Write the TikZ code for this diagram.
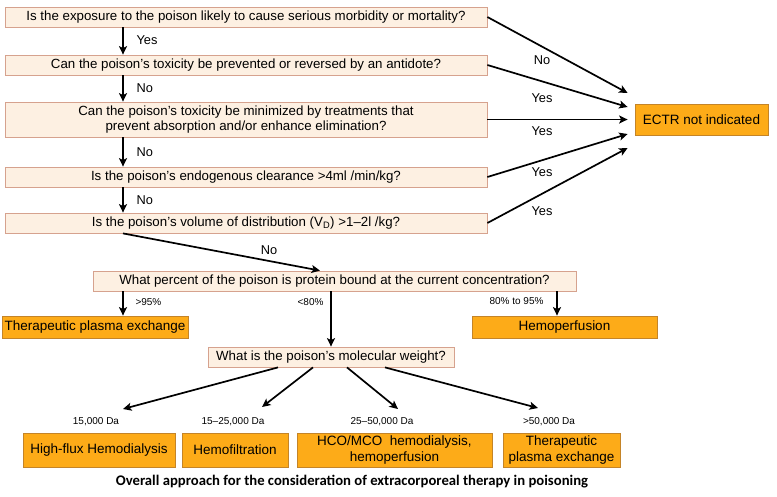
\documentclass[tikz,border=0pt]{standalone}
\usepackage{fontspec}
\setmainfont{Liberation Sans}
\newfontfamily\capfont{Carlito}
\usepackage{tikz}
\usetikzlibrary{arrows.meta}
\usetikzlibrary{positioning}
\definecolor{qfill}{RGB}{253,240,226}
\definecolor{qline}{RGB}{214,162,142}
\definecolor{ofill}{RGB}{253,171,24}
\definecolor{oline}{RGB}{196,132,40}
\tikzset{
    question/.style={
        draw=qline,
        fill=qfill,
        line width=0.8pt,
        inner sep=1pt,
        align=center,
        font=\fontsize{13.3}{15}\selectfont
    },
    therapy/.style={
        draw=oline,
        fill=ofill,
        line width=0.8pt,
        inner sep=1pt,
        align=center,
        font=\fontsize{13.5}{15.5}\selectfont
    },
    flow/.style={
        draw,
        -{Stealth[length=8.5pt, width=8pt, inset=2pt]},
        line width=1.7pt
    },
    answer/.style={font=\fontsize{12.8}{14}\selectfont},
    small/.style={font=\fontsize{10}{11}\selectfont}
}

\begin{document}
\begin{tikzpicture}[x=1pt, y=-1pt]
  \useasboundingbox (0,0) rectangle (777,496);

  % Questions
  \node[question, minimum width=482, minimum height=20] (q1) at (246,17) {Is the exposure to the poison likely to cause serious morbidity or mortality?};
  \node[question, minimum width=482, minimum height=20] (q2) at (246,65) {Can the poison's toxicity be prevented or reversed by an antidote?};
  \node[question, minimum width=482, minimum height=35] (q3) at (246,119.5) {Can the poison's toxicity be minimized by treatments that\\prevent absorption and/or enhance elimination?};
  \node[question, minimum width=482, minimum height=20] (q4) at (246,177) {Is the poison's endogenous clearance >4ml /min/kg?};
  \node[question, minimum width=482, minimum height=20] (q5) at (246,223) {Is the poison's volume of distribution (V\textsubscript{D}) >1–2l /kg?};
  \node[question, minimum width=483, minimum height=20] (q6) at (334.5,281) {What percent of the poison is protein bound at the current concentration?};
  \node[question, minimum width=246, minimum height=20] (mw) at (331,357) {What is the poison's molecular weight?};

  % Outcomes
  \node[therapy, minimum width=133, minimum height=31] (ectr) at (701.5,119.5) {ECTR not indicated};
  \node[therapy, minimum width=186, minimum height=22] (tpe) at (95,327) {Therapeutic plasma exchange};
  \node[therapy, minimum width=185, minimum height=22] (hp) at (564.5,327) {Hemoperfusion};
  \node[therapy, minimum width=152, minimum height=34] (hfhd) at (99,450) {High-flux Hemodialysis};
  \node[therapy, minimum width=106, minimum height=34] (hf) at (235,450) {Hemofiltration};
  \node[therapy, minimum width=195, minimum height=34] (hco) at (394.5,450) {HCO/MCO\ \ hemodialysis,\\hemoperfusion};
  \node[therapy, minimum width=117, minimum height=34] (tpe2) at (561.5,450) {Therapeutic\\plasma exchange};

  % Main line down the left
  \coordinate (spine) at (123,0);
  \draw[flow] (q1.south -| spine) -- (q2.north -| spine);
  \draw[flow] (q2.south -| spine) -- (q3.north -| spine);
  \draw[flow] (q3.south -| spine) -- (q4.north -| spine);
  \draw[flow] (q4.south -| spine) -- (q5.north -| spine);
  \draw[flow] (q5.south -| spine) -- ([xshift=-14.5pt]q6.north);
  \node[answer, anchor=west] (a1) at (133,40) {Yes};
  \node[answer, anchor=west] (a2) at (133,88) {No};
  \node[answer, anchor=west] (a3) at (133,152) {No};
  \node[answer, anchor=west] (a4) at (133,200) {No};
  \node[answer] (a5) at (269,250) {No};

  % Branches to ECTR not indicated
  \draw[flow] (q1.east) -- ([xshift=-7pt, yshift=26.5pt]ectr.west);
  \draw[flow] (q2.east) -- ([xshift=-7pt, yshift=12.5pt]ectr.west);
  \draw[flow] (q3.east) -- ([xshift=-7pt]ectr.west);
  \draw[flow] (q4.east) -- ([xshift=-7pt, yshift=-14.5pt]ectr.west);
  \draw[flow] (q5.east) -- ([xshift=-7pt, yshift=-28.5pt]ectr.west);
  \node[answer] (b1) at (542,60) {No};
  \node[answer] (b2) at (542,98) {Yes};
  \node[answer] (b3) at (542,131) {Yes};
  \node[answer] (b4) at (542,172) {Yes};
  \node[answer] (b5) at (542,211) {Yes};

  % Protein binding
  \coordinate (hpin) at ([xshift=-7.5pt]hp.north);
  \draw[flow] (q6.south -| spine) -- (tpe.north -| spine);
  \draw[flow] (q6.south -| mw) -- (mw.north);
  \draw[flow] (q6.south -| hpin) -- (hpin);
  \node[small, anchor=west] (p1) at (132,302) {>95\%};
  \node[small, anchor=east] (p2) at (327,302) {<80\%};
  \node[small, anchor=east] (p3) at (547,301) {80\% to 95\%};

  % Molecular weight
  \coordinate (e1) at (123,409);
  \coordinate (e2) at (262,407);
  \coordinate (e3) at (398,409);
  \coordinate (e4) at (538,408);
  \draw[flow] ([xshift=-53pt]mw.south) -- (e1);
  \draw[flow] ([xshift=-18pt]mw.south) -- (e2);
  \draw[flow] ([xshift=16pt]mw.south) -- (e3);
  \draw[flow] ([xshift=54pt]mw.south) -- (e4);
  \node[small] (w1) at (96,422) {15,000 Da};
  \node[small] (w2) at (233,422) {15–25,000 Da};
  \node[small] (w3) at (382,422) {25–50,000 Da};
  \node[small] (w4) at (549,422) {>50,000 Da};

  % Caption
  \node[font=\capfont\bfseries\fontsize{14.7}{17}\selectfont] (cap) at (352,482) {Overall approach for the consideration of extracorporeal therapy in poisoning};
\end{tikzpicture}
\end{document}
